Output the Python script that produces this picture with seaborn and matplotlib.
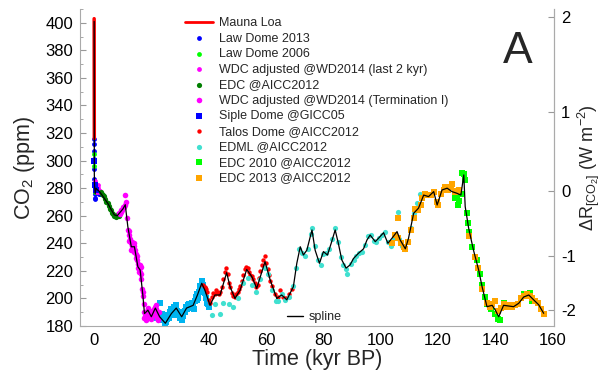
import numpy as np
import matplotlib
matplotlib.use("Agg")
import matplotlib.pyplot as plt
import seaborn as sns
from matplotlib.lines import Line2D

# ---- data (kyr BP, ppm) ----
mauna_age = [-0.064, -0.060, -0.055, -0.050, -0.045, -0.040, -0.035, -0.030, -0.025, -0.020, -0.015, -0.010, -0.008]
mauna_co2 = [403, 397, 389, 380, 370, 361, 354, 346, 339, 331, 326, 320, 316]

law13_age = [-0.045, -0.035, -0.025, -0.015, -0.005, 0.0, 0.05, 0.1, 0.15, 0.2, 0.25, 0.3, 0.35, 0.4, 0.5, 0.6, 0.7, 0.8, 0.9, 1.0, 1.2, 1.4, 1.6, 1.8, 2.0]
law13_co2 = [316, 312, 307, 301, 294, 287, 283, 281, 280, 279, 277, 273, 272, 276, 280, 281, 279, 280, 279, 278, 277, 278, 276, 277, 276]

law06_age = [-0.03, -0.01, 0.05, 0.2, 0.4, 0.6, 0.8, 1.0, 1.5]
law06_co2 = [305, 296, 284, 280, 277, 281, 280, 279, 278]

wdc2k_age = [0.0, 0.2, 0.4, 0.6, 0.8, 1.0, 1.2, 1.4, 1.6, 1.8, 2.0]
wdc2k_co2 = [283, 285, 281, 279, 277, 279, 282, 280, 278, 277, 278]

edc_age = [2.2, 2.6, 3.0, 3.4, 3.8, 4.2, 4.6, 5.0, 5.4, 5.8, 6.2, 6.6, 7.0, 7.4, 7.8, 8.2, 8.6, 9.0]
edc_co2 = [277, 276, 275, 274, 272, 270, 269, 267, 265, 264, 262, 261, 260, 259, 260, 261, 260, 262]

wdcT1_age = [8.6, 9.0, 9.4, 9.8, 10.2, 10.6, 10.8, 11.0, 11.5, 11.8, 12.1, 12.4, 12.7, 13.0, 13.3, 13.6, 13.9,
             14.2, 14.5, 14.8, 15.1, 15.4, 15.7, 16.0, 16.3, 16.6, 16.9, 17.2, 17.5, 17.8, 18.1, 18.4, 18.7,
             19.0, 19.3, 19.6, 19.9, 20.2, 20.5, 20.8, 21.1, 21.4, 21.7, 22.0, 22.3,
             12.2, 13.1, 14.0, 14.9, 15.8, 16.4, 17.0, 18.0, 19.5, 21.0, 22.6,
             9.2, 10.0, 12.0, 12.9, 13.8, 14.6, 15.5, 16.2, 17.4, 18.5, 20.0, 21.5]
wdcT1_co2 = [262, 261, 263, 264, 266, 268, 275, 270, 258, 250, 246, 243, 240, 238, 236, 239, 238,
             235, 232, 228, 225, 222, 221, 219, 214, 207, 202, 196, 190, 187, 189, 191, 193,
             190, 188, 186, 185, 187, 190, 192, 194, 192, 189, 186, 184,
             242, 241, 234, 231, 224, 218, 205, 184, 191, 189, 190,
             264, 266, 249, 235, 240, 229, 219, 223, 186, 188, 190, 195]

siple_age = [-0.02, 0.1, 0.5]
siple_co2 = [300, 282, 279]

sky_age = [21.5, 22.0, 22.5, 23.0, 23.5, 24.0, 24.5, 25.0, 25.5, 26.0, 26.5, 27.0, 27.5, 28.0, 28.5, 29.0,
           29.5, 30.0, 30.5, 31.0, 31.5, 32.0, 32.5, 33.0, 33.5, 34.0, 34.5, 35.0, 35.5, 36.0, 36.5, 37.0,
           37.5, 38.0, 38.5, 39.0, 39.5, 40.0,
           21.8, 22.8, 23.8, 24.8, 25.8, 26.8, 27.8, 28.8, 29.8, 30.8, 31.8, 32.8, 33.8, 34.8, 35.8, 36.8,
           37.8, 38.8, 39.8, 24.2, 27.2, 30.2, 33.2, 36.2]
sky_co2 = [191, 188, 185, 197, 189, 184, 182, 183, 185, 186, 190, 188, 192, 190, 195, 191,
           189, 186, 184, 189, 191, 194, 192, 196, 193, 197, 194, 198, 201, 203, 205, 209,
           213, 208, 204, 200, 197, 194,
           186, 189, 187, 181, 188, 192, 194, 188, 190, 187, 190, 195, 195, 192, 199, 206,
           210, 206, 196, 186, 191, 189, 194, 200]

talos_age = [38.0, 38.5, 39.0, 39.5, 40.0, 40.5, 41.0, 41.5, 42.0, 42.5, 43.0, 43.5, 44.0, 44.5, 45.0, 45.5,
             46.0, 46.5, 47.0, 47.5, 48.0, 48.5, 49.0, 49.5, 50.0, 50.5, 51.0, 51.5, 52.0, 52.5, 53.0, 53.5,
             54.0, 54.5, 55.0, 55.5, 56.0, 56.5, 57.0, 57.5, 58.0, 58.5, 59.0, 59.5, 60.0, 60.5, 61.0, 61.5,
             62.0, 63.0, 64.0, 65.0, 66.0, 67.0, 68.0, 69.0]
talos_co2 = [210, 208, 207, 205, 199, 197, 201, 204, 203, 206, 205, 203, 205, 208, 214, 219,
             222, 218, 211, 208, 204, 202, 201, 203, 205, 207, 209, 213, 217, 221, 223, 222,
             219, 217, 216, 214, 211, 208, 210, 215, 220, 224, 228, 231, 226, 221, 217, 213,
             209, 203, 201, 206, 201, 200, 203, 207]

edml_age = [41.0, 42.0, 43.9, 45.0, 47.0, 48.5, 50.0, 52.0, 53.5, 55.0, 56.5, 58.0, 59.5, 60.5, 62.0, 63.5,
            64.0, 65.5, 66.5, 68.0, 69.5, 70.5, 71.5, 72.5, 73.5, 74.5, 75.5, 76.0, 77.0, 78.0, 79.0, 80.0,
            81.0, 82.0, 83.0, 84.0, 85.0, 86.0, 87.0, 88.0, 88.3, 89.5, 90.5, 91.5, 92.5, 93.5, 94.5, 95.5,
            96.5, 97.5, 98.5, 99.5, 100.5, 101.5, 102.5, 103.5, 104.5, 106.0, 106.5, 107.5, 108.5, 109.5,
            110.5, 111.5, 112.7, 113.8]
edml_co2 = [188, 196, 189, 197, 196, 194, 200, 211, 215, 210, 205, 214, 222, 218, 206, 198,
            198, 203, 199, 201, 209, 222, 236, 233, 231, 236, 247, 251, 238, 228, 224, 232,
            233, 236, 243, 251, 241, 230, 224, 221, 218, 225, 228, 231, 233, 234, 239, 245,
            246, 242, 241, 244, 246, 248, 241, 238, 244, 263, 243, 238, 236, 242,
            251, 262, 269, 276]

edc10_age = [126.0, 126.5, 127.1, 127.5, 128.0, 128.4, 129.0, 129.3, 130.0, 130.5, 131.0, 132.0, 133.5,
             134.5, 135.5, 136.5, 137.0, 138.5, 140.0, 141.0, 141.5, 143.0, 150.0, 152.0, 153.0]
edc10_co2 = [273, 274, 268, 271, 276, 291, 290, 286, 262, 255, 248, 237, 228,
             218, 210, 201, 196, 192, 189, 185, 184, 197, 203, 204, 198]

edc13_age = [104.0, 105.0, 106.2, 106.0, 107.0, 108.0, 108.6, 109.5, 110.5, 111.5, 112.0, 113.0, 114.0,
             114.5, 115.5, 116.5, 117.5, 118.5, 119.5, 120.0, 121.0, 122.0, 122.5, 123.5, 124.5, 125.0,
             126.0, 126.5, 127.5, 131.0, 133.0, 134.0, 135.5, 137.0, 138.0, 139.0, 139.8, 141.0, 142.0,
             143.0, 144.0, 145.0, 146.0, 147.0, 148.0, 149.0, 150.0, 151.0, 152.0, 153.0, 154.0, 155.0,
             156.0, 157.0]
edc13_co2 = [240, 246, 258, 244, 240, 237, 236, 241, 250, 258, 265, 264, 268,
             273, 276, 275, 275, 277, 270, 268, 276, 279, 281, 279, 281, 283,
             277, 278, 279, 245, 230, 222, 207, 197, 194, 196, 198, 191, 193,
             196, 194, 195, 194, 195, 196, 200, 202, 203, 202, 200, 198, 197,
             192, 189]

spline_age = [-0.064, -0.04, -0.02, 0.0, 0.1, 0.3, 0.6, 1.0, 1.8, 3.0, 4.7, 6.0, 7.0, 8.0, 8.8, 10.0, 10.8,
              11.7, 12.9, 14.0, 15.2, 16.0, 17.0, 17.5, 18.7, 19.9, 21.3, 22.8, 24.8, 26.9, 28.6, 30.5,
              32.2, 34.5, 36.0, 37.5, 38.6, 40.4, 42.1, 43.9, 46.2, 47.4, 49.1, 50.9, 53.2, 55.0, 56.7,
              59.6, 61.4, 63.7, 65.4, 67.2, 69.5, 70.7, 71.9, 73.0, 74.2, 76.0, 77.1, 78.6, 80.0, 81.4,
              82.7, 84.1, 85.2, 86.4, 87.9, 89.3, 90.5, 92.2, 94.0, 95.2, 96.3, 98.1, 99.2, 101.0, 102.5,
              103.9, 105.7, 106.8, 108.6, 109.7, 111.5, 113.2, 115.0, 116.7, 118.5, 119.7, 121.4, 123.2,
              124.9, 126.6, 128.0, 129.0, 129.5, 130.7, 132.4, 134.2, 135.4, 137.1, 138.9, 140.0, 141.2,
              142.9, 144.7, 146.4, 148.2, 149.9, 151.7, 153.4, 155.2, 156.9]
spline_co2 = [401, 360, 320, 290, 281, 276, 280, 279, 277.5, 274, 269, 264, 260.6, 260, 262, 265, 268,
              252, 237.5, 237.5, 223, 220.6, 201, 189, 191.5, 186.7, 193, 186.7, 182, 189, 193, 186.7,
              193, 195, 202.5, 211, 206, 195, 202.5, 202.5, 218.7, 208.5, 200, 206, 221, 215.8, 207.3,
              226.7, 213.4, 200, 202.5, 199, 208.5, 225.5, 237.5, 231.5, 235, 249.7, 235, 225.5, 234, 231.5,
              240, 249.7, 240, 228, 222, 224.3, 229, 232.7, 236, 242.4, 246, 241.2, 243.6, 247.7, 240,
              243.6, 248.5, 242.4, 236, 243.6, 261.8, 265.5, 275, 273.9, 277.5, 267.8, 278.7, 280,
              277.5, 276.3, 275, 289.6, 266.6, 251, 235, 220.6, 208.5, 194, 195, 191.6, 186.7,
              195, 194.5, 194, 196.5, 201, 202.5, 199, 195.3, 189.2]

forcing_ticks = [-2, -1, 0, 1, 2]

sns.set_style("white")
plt.rcParams['font.family'] = ['Liberation Sans', 'DejaVu Sans']
plt.rcParams['mathtext.default'] = 'regular'

fig = plt.figure(figsize=(6.03, 3.76), dpi=100)
ax = fig.add_axes([0.1327, 0.133, 0.786, 0.843])

pts = [
    (law13_age, law13_co2, '#0000ff', 'o', 12, 'Law Dome 2013'),
    (law06_age, law06_co2, '#00ff00', 'o', 12, 'Law Dome 2006'),
    (wdc2k_age, wdc2k_co2, '#ff00ff', 'o', 12, 'WDC adjusted @WD2014 (last 2 kyr)'),
    (edc_age, edc_co2, '#007f00', 'o', 14, 'EDC @AICC2012'),
    (wdcT1_age, wdcT1_co2, '#ff00ff', 'o', 16, 'WDC adjusted @WD2014 (Termination I)'),
    (siple_age, siple_co2, '#0000ff', 's', 14, 'Siple Dome @GICC05'),
    (talos_age, talos_co2, '#ff0000', 'o', 10, 'Talos Dome @AICC2012'),
    (edml_age, edml_co2, '#40e0d0', 'o', 14, 'EDML @AICC2012'),
    (edc10_age, edc10_co2, '#00ff00', 's', 18, 'EDC 2010 @AICC2012'),
    (edc13_age, edc13_co2, '#ffa500', 's', 18, 'EDC 2013 @AICC2012'),
]

sns.scatterplot(x=sky_age, y=sky_co2, color='#00b4f0', marker='s', s=14, linewidth=0, ax=ax, zorder=2)
for a, c, col, m, s, lab in pts:
    sns.scatterplot(x=a, y=c, color=col, marker=m, s=s, linewidth=0, ax=ax, zorder=2, label=lab)

ax.plot(mauna_age, mauna_co2, color='red', lw=2.5, zorder=3)
sns.lineplot(x=spline_age, y=spline_co2, color='black', lw=0.9, sort=False, estimator=None, ax=ax, zorder=4)

ax.set_xlim(-5, 160.5)
ax.set_ylim(180, 410)
ax.set_xticks(range(0, 161, 20))
ax.set_xticks(range(0, 161, 10), minor=True)
ax.set_yticks(range(180, 401, 20))
ax.set_yticks(range(180, 411, 10), minor=True)
ax.tick_params(which='both', direction='in', colors='#999999', labelcolor='black', labelsize=12)
ax.tick_params(which='major', length=4, pad=5)
ax.tick_params(which='minor', length=2.5)
for side in ['left', 'bottom', 'right']:
    ax.spines[side].set_color('#aaaaaa')
ax.spines['top'].set_visible(False)
ax.set_xlabel('Time (kyr BP)', fontsize=15.5, labelpad=1)
ax.set_ylabel('CO$_2$ (ppm)', fontsize=15.5, labelpad=6)

ax2 = ax.twinx()
ax2.set_ylim(ax.get_ylim())
ax2.set_yticks([278 * np.exp(k / 5.35) for k in forcing_ticks])
ax2.set_yticklabels([str(k) for k in forcing_ticks])
ax2.tick_params(direction='in', colors='#999999', labelcolor='black', labelsize=12, length=4, pad=5)
for side in ['left', 'bottom', 'top']:
    ax2.spines[side].set_visible(False)
ax2.spines['right'].set_color('#aaaaaa')
ax2.set_ylabel(r'$\Delta$R$_{[CO_2]}$ (W m$^{-2}$)', fontsize=13, labelpad=0)

handles, labels = ax.get_legend_handles_labels()
handles = [Line2D([], [], color='red', lw=2)] + handles
labels = ['Mauna Loa'] + labels
leg = ax.legend(handles, labels, loc='upper left', bbox_to_anchor=(0.212, 0.99), frameon=False,
                fontsize=9, labelspacing=0.28, handlelength=2.2, handletextpad=0.5, borderaxespad=0)
ax.add_artist(leg)
ax.legend([Line2D([], [], color='black', lw=1)], ['spline'], loc='lower left',
          bbox_to_anchor=(0.42, -0.015), frameon=False, fontsize=9, handlelength=1.3,
          handletextpad=0.5, borderaxespad=0.2)

ax.text(0.923, 0.865, 'A', transform=ax.transAxes, fontsize=32, ha='center', va='center')

fig.savefig('out.png', dpi=100)
